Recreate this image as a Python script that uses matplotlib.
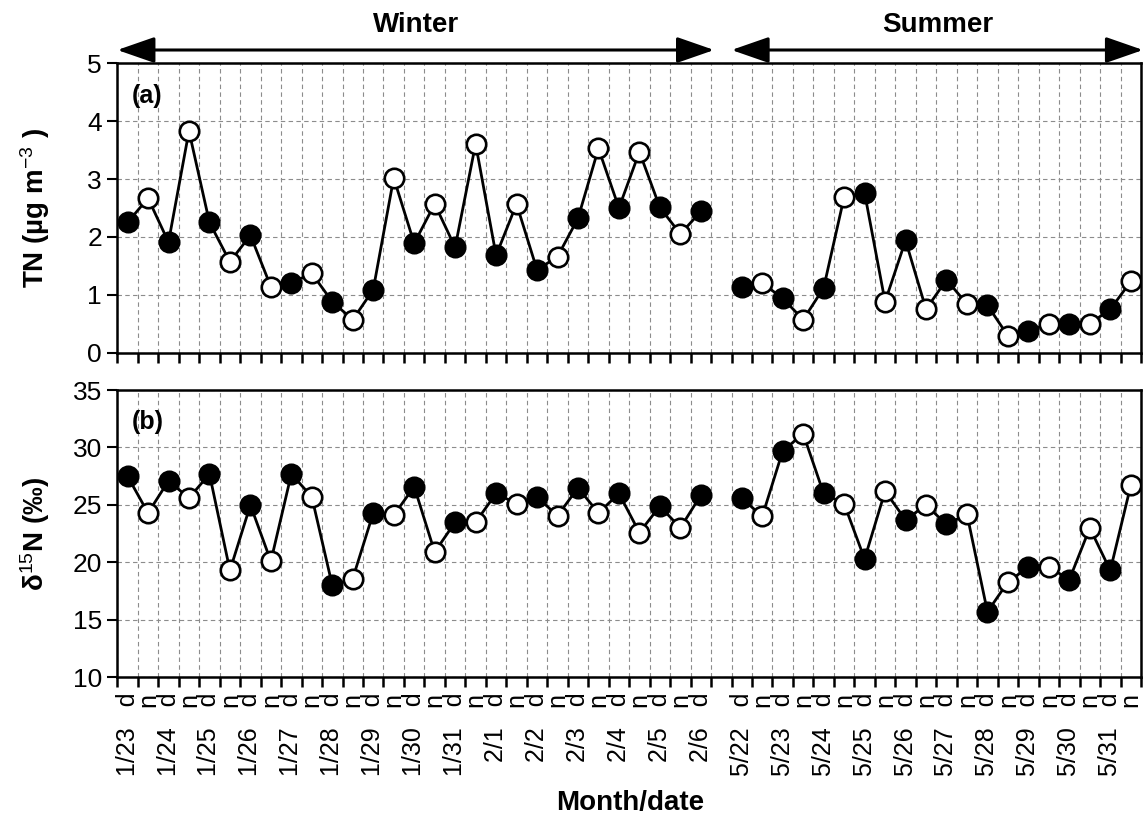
import matplotlib
matplotlib.use('Agg')
import matplotlib.pyplot as plt
import matplotlib.transforms as mtransforms
import numpy as np

plt.rcParams['font.family'] = ['Liberation Sans', 'DejaVu Sans']
plt.rcParams['mathtext.fontset'] = 'custom'
plt.rcParams['mathtext.rm'] = 'Liberation Sans'
plt.rcParams['mathtext.it'] = 'Liberation Sans'
plt.rcParams['mathtext.bf'] = 'Liberation Sans:bold'

# Даты отбора проб (d - день, n - ночь)
winter_dates = ['1/23', '1/24', '1/25', '1/26', '1/27', '1/28', '1/29', '1/30',
                '1/31', '2/1', '2/2', '2/3', '2/4', '2/5', '2/6']
summer_dates = ['5/22', '5/23', '5/24', '5/25', '5/26', '5/27', '5/28', '5/29',
                '5/30', '5/31']

# TN, µg m-3 (d, n, d, n, ...)
tn_winter = [2.25, 2.67, 1.91, 3.83, 2.25, 1.57, 2.03, 1.14, 1.21, 1.37,
             0.88, 0.57, 1.09, 3.02, 1.89, 2.57, 1.82, 3.61, 1.68, 2.57,
             1.43, 1.66, 2.32, 3.53, 2.50, 3.47, 2.51, 2.05, 2.44]
tn_summer = [1.13, 1.20, 0.94, 0.57, 1.12, 2.69, 2.76, 0.88, 1.94, 0.75,
             1.26, 0.84, 0.82, 0.29, 0.38, 0.50, 0.50, 0.50, 0.75, 1.23]

# delta 15N, ‰
d15n_winter = [27.5, 24.3, 27.1, 25.6, 27.7, 19.3, 25.0, 20.1, 27.7, 25.7,
               18.0, 18.6, 24.3, 24.1, 26.6, 20.9, 23.5, 23.5, 26.0, 25.1,
               25.7, 24.05, 26.5, 24.3, 26.0, 22.6, 24.9, 23.0, 25.85]
d15n_summer = [25.6, 24.0, 29.7, 31.2, 26.0, 25.1, 20.3, 26.2, 23.7, 25.0,
               23.3, 24.2, 15.7, 18.3, 19.6, 19.6, 18.5, 23.0, 19.3, 26.7]

n_w = len(tn_winter)
n_s = len(tn_summer)
x_w = np.arange(n_w) + 0.5
x_s = np.arange(n_s) + n_w + 1 + 0.5
n_cat = n_w + 1 + n_s

# подписи оси x
labels = []
for i in range(n_w):
    labels.append(winter_dates[i // 2] + '   d' if i % 2 == 0 else 'n')
labels.append('')
for i in range(n_s):
    labels.append(summer_dates[i // 2] + '   d' if i % 2 == 0 else 'n')

fig = plt.figure(figsize=(11.48, 8.32), dpi=100)
ax1 = fig.add_axes([0.1022, 0.5761, 0.9939 - 0.1022, 0.9239 - 0.5761])
ax2 = fig.add_axes([0.1022, 0.1859, 0.9939 - 0.1022, 0.5312 - 0.1859])


def draw(ax, yw, ys):
    for xx, yy in [(x_w, yw), (x_s, ys)]:
        yy = np.asarray(yy)
        ax.plot(xx, yy, color='black', lw=2.0, zorder=3)
        ax.plot(xx[0::2], yy[0::2], 'o', ms=14, mfc='black', mec='black',
                mew=1.9, zorder=4)
        ax.plot(xx[1::2], yy[1::2], 'o', ms=14, mfc='white', mec='black',
                mew=1.9, zorder=4)
    ax.set_xlim(0, n_cat)
    ax.set_xticks(np.arange(n_cat + 1))
    ax.set_xticks(np.arange(n_cat) + 0.5, minor=True)
    ax.tick_params(axis='x', which='major', direction='out', length=7.5,
                   width=1.8, labelbottom=False)
    ax.tick_params(axis='x', which='minor', length=0, pad=11, labelsize=18)
    ax.tick_params(axis='y', direction='out', length=7, width=1.5,
                   labelsize=19, pad=4)
    ax.grid(True, which='major', color='#8c8c8c', linestyle=(0, (4, 3)),
            lw=0.8, zorder=0)
    for s in ax.spines.values():
        s.set_linewidth(1.8)


draw(ax1, tn_winter, tn_summer)
ax1.set_ylim(0, 5)
ax1.set_yticks(range(0, 6))
ax1.set_xticklabels([], minor=True)
ax1.set_ylabel('TN (µg m$^{-3}$ )', fontsize=20, fontweight='bold')
ax1.yaxis.set_label_coords(-0.064, 0.5)
ax1.text(0.014, 0.93, '(a)', transform=ax1.transAxes, fontsize=18,
         fontweight='bold', va='top', ha='left')

draw(ax2, d15n_winter, d15n_summer)
ax2.set_ylim(10, 35)
ax2.set_yticks(range(10, 36, 5))
ax2.set_xticklabels(labels, minor=True, rotation=90, va='top', ha='center')
ax2.set_ylabel('δ$^{15}$N (‰)', fontsize=20, fontweight='bold')
ax2.yaxis.set_label_coords(-0.064, 0.5)
ax2.text(0.014, 0.93, '(b)', transform=ax2.transAxes, fontsize=18,
         fontweight='bold', va='top', ha='left')

fig.text(0.549, 0.035, 'Month/date', fontsize=20, fontweight='bold',
         ha='center', va='center')

# стрелки сезонов
trans = mtransforms.blended_transform_factory(ax1.transData, fig.transFigure)
arrow_y = 1 - 50 / 832
for x0, x1, name in [(0, n_w + 0.15, 'Winter'), (n_w + 1, n_cat + 0.1, 'Summer')]:
    ax1.annotate('', xy=(x1, arrow_y), xytext=(x0, arrow_y), xycoords=trans,
                 textcoords=trans, annotation_clip=False,
                 arrowprops=dict(arrowstyle='<|-|>,head_length=2.3,head_width=0.8',
                                 color='black', lw=2.2, mutation_scale=10,
                                 shrinkA=0, shrinkB=0))
    ax1.text((x0 + x1) / 2, 1 - 25 / 832, name, transform=trans, fontsize=20,
             fontweight='bold', ha='center', va='center')

fig.savefig('out.png', dpi=100)
